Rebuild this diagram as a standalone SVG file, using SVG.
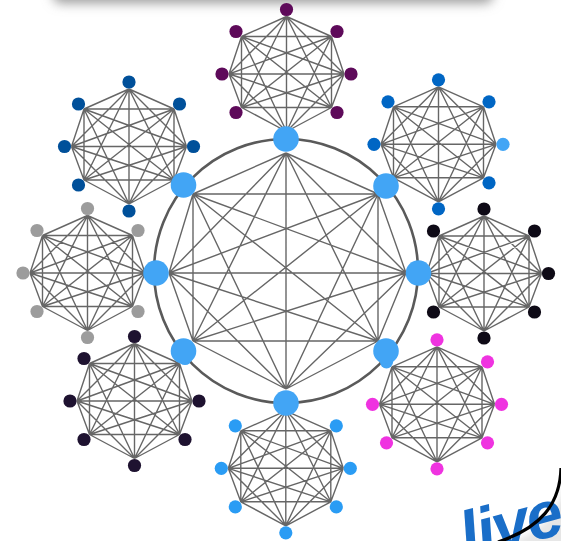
<svg xmlns="http://www.w3.org/2000/svg" xmlns:xlink="http://www.w3.org/1999/xlink" width="561" height="541" viewBox="0 0 561 541">
<style>
  .edge { fill: none; stroke: #666; stroke-width: 1.4; }
  .ring { fill: none; stroke: #5a5a5a; stroke-width: 2.6; }
  .hub { fill: #42a5f5; }
  .c-top { fill: #5e0a5a; }
  .c-ur { fill: #0066c4; }
  .c-r { fill: #0e0a16; }
  .c-lr { fill: #ef33e0; }
  .c-b { fill: #2a9cf4; }
  .c-ll { fill: #1e1230; }
  .c-l { fill: #9c9c9c; }
  .c-ul { fill: #00509a; }
  .lt { fill: #42a5f5; }
</style>
<defs>
  <filter id="blur6" x="-20%" y="-200%" width="140%" height="500%"><feGaussianBlur stdDeviation="6"/></filter>
  <filter id="blur3" x="-50%" y="-50%" width="200%" height="200%"><feGaussianBlur stdDeviation="3"/></filter>
  <path id="k8" class="edge" d="M0,-57.5L45,-37.5M0,-57.5L57.5,0M0,-57.5L45,33.5M0,-57.5L0,57.5M0,-57.5L-45,33.5M0,-57.5L-57.5,0M0,-57.5L-45,-37.5M45,-37.5L57.5,0M45,-37.5L45,33.5M45,-37.5L0,57.5M45,-37.5L-45,33.5M45,-37.5L-57.5,0M45,-37.5L-45,-37.5M57.5,0L45,33.5M57.5,0L0,57.5M57.5,0L-45,33.5M57.5,0L-57.5,0M57.5,0L-45,-37.5M45,33.5L0,57.5M45,33.5L-45,33.5M45,33.5L-57.5,0M45,33.5L-45,-37.5M0,57.5L-45,33.5M0,57.5L-57.5,0M0,57.5L-45,-37.5M-45,33.5L-57.5,0M-45,33.5L-45,-37.5M-57.5,0L-45,-37.5"/>
</defs>

<rect width="561" height="541" fill="#ffffff"/>

<!-- header shadow at top -->
<rect x="53" y="-40" width="440" height="43" rx="8" fill="#999" filter="url(#blur6)"/>

<g id="connectors">
  <circle class="ring" cx="286" cy="271" r="132"/>
  <path class="edge" d="M286,153L378,194M286,153L406,273M286,153L378,341M286,153L286,389M286,153L193,341M286,153L169,273M286,153L193,194M378,194L406,273M378,194L378,341M378,194L286,389M378,194L193,341M378,194L169,273M378,194L193,194M406,273L378,341M406,273L286,389M406,273L193,341M406,273L169,273M406,273L193,194M378,341L286,389M378,341L193,341M378,341L169,273M378,341L193,194M286,389L193,341M286,389L169,273M286,389L193,194M193,341L169,273M193,341L193,194M169,273L193,194"/>
  <use xlink:href="#k8" href="#k8" transform="translate(286.5,74)"/>
  <use xlink:href="#k8" href="#k8" transform="translate(438.5,144.3)"/>
  <use xlink:href="#k8" href="#k8" transform="translate(484,273.5)"/>
  <use xlink:href="#k8" href="#k8" transform="translate(437,404.3)"/>
  <use xlink:href="#k8" href="#k8" transform="translate(285.8,468.3)"/>
  <use xlink:href="#k8" href="#k8" transform="translate(134.5,401)"/>
  <use xlink:href="#k8" href="#k8" transform="translate(87.5,273)"/>
  <use xlink:href="#k8" href="#k8" transform="translate(129,146.5)"/>
</g>

<!-- outer clusters -->
<g id="cluster-top" transform="translate(286.5,74)">
  <circle id="top-t" class="c-top" cx="0" cy="-64.5" r="6.6"/>
  <circle id="top-ur" class="c-top" cx="50.5" cy="-42.5" r="6.6"/>
  <circle id="top-r" class="c-top" cx="64.5" cy="0" r="6.6"/>
  <circle id="top-lr" class="c-top" cx="50.5" cy="38.5" r="6.6"/>
  <circle id="top-ll" class="c-top" cx="-50.5" cy="38.5" r="6.6"/>
  <circle id="top-l" class="c-top" cx="-64.5" cy="0" r="6.6"/>
  <circle id="top-ul" class="c-top" cx="-50.5" cy="-42.5" r="6.6"/>
</g>
<g id="cluster-upper-right" transform="translate(438.5,144.3)">
  <circle id="ur-t" class="c-ur" cx="0" cy="-64.5" r="6.6"/>
  <circle id="ur-ur" class="c-ur" cx="50.5" cy="-42.5" r="6.6"/>
  <circle id="ur-r" class="lt" cx="64.5" cy="0" r="6.6"/>
  <circle id="ur-lr" class="c-ur" cx="50.5" cy="38.5" r="6.6"/>
  <circle id="ur-b" class="c-ur" cx="0" cy="64.5" r="6.6"/>
  <circle id="ur-l" class="c-ur" cx="-64.5" cy="0" r="6.6"/>
  <circle id="ur-ul" class="c-ur" cx="-50.5" cy="-42.5" r="6.6"/>
</g>
<g id="cluster-right" transform="translate(484,273.5)">
  <circle id="r-t" class="c-r" cx="0" cy="-64.5" r="6.6"/>
  <circle id="r-ur" class="c-r" cx="50.5" cy="-42.5" r="6.6"/>
  <circle id="r-r" class="c-r" cx="64.5" cy="0" r="6.6"/>
  <circle id="r-lr" class="c-r" cx="50.5" cy="38.5" r="6.6"/>
  <circle id="r-b" class="c-r" cx="0" cy="64.5" r="6.6"/>
  <circle id="r-ll" class="c-r" cx="-50.5" cy="38.5" r="6.6"/>
  <circle id="r-ul" class="c-r" cx="-50.5" cy="-42.5" r="6.6"/>
</g>
<g id="cluster-lower-right" transform="translate(437,404.3)">
  <circle id="lr-ul" class="lt" cx="-50.5" cy="-42.5" r="6.6"/>
  <circle id="lr-t" class="c-lr" cx="0" cy="-64.5" r="6.6"/>
  <circle id="lr-ur" class="c-lr" cx="50.5" cy="-42.5" r="6.6"/>
  <circle id="lr-r" class="c-lr" cx="64.5" cy="0" r="6.6"/>
  <circle id="lr-lr" class="c-lr" cx="50.5" cy="38.5" r="6.6"/>
  <circle id="lr-b" class="c-lr" cx="0" cy="64.5" r="6.6"/>
  <circle id="lr-ll" class="c-lr" cx="-50.5" cy="38.5" r="6.6"/>
  <circle id="lr-l" class="c-lr" cx="-64.5" cy="0" r="6.6"/>
</g>
<g id="cluster-bottom" transform="translate(285.8,468.3)">
  <circle id="b-ur" class="c-b" cx="50.5" cy="-42.5" r="6.6"/>
  <circle id="b-r" class="c-b" cx="64.5" cy="0" r="6.6"/>
  <circle id="b-lr" class="c-b" cx="50.5" cy="38.5" r="6.6"/>
  <circle id="b-b" class="c-b" cx="0" cy="64.5" r="6.6"/>
  <circle id="b-ll" class="c-b" cx="-50.5" cy="38.5" r="6.6"/>
  <circle id="b-l" class="c-b" cx="-64.5" cy="0" r="6.6"/>
  <circle id="b-ul" class="c-b" cx="-50.5" cy="-42.5" r="6.6"/>
</g>
<g id="cluster-lower-left" transform="translate(134.5,401)">
  <circle id="ll-ur" class="lt" cx="50.5" cy="-42.5" r="6.6"/>
  <circle id="ll-t" class="c-ll" cx="0" cy="-64.5" r="6.6"/>
  <circle id="ll-r" class="c-ll" cx="64.5" cy="0" r="6.6"/>
  <circle id="ll-lr" class="c-ll" cx="50.5" cy="38.5" r="6.6"/>
  <circle id="ll-b" class="c-ll" cx="0" cy="64.5" r="6.6"/>
  <circle id="ll-ll" class="c-ll" cx="-50.5" cy="38.5" r="6.6"/>
  <circle id="ll-l" class="c-ll" cx="-64.5" cy="0" r="6.6"/>
  <circle id="ll-ul" class="c-ll" cx="-50.5" cy="-42.5" r="6.6"/>
</g>
<g id="cluster-left" transform="translate(87.5,273)">
  <circle id="l-t" class="c-l" cx="0" cy="-64.5" r="6.6"/>
  <circle id="l-ur" class="c-l" cx="50.5" cy="-42.5" r="6.6"/>
  <circle id="l-lr" class="c-l" cx="50.5" cy="38.5" r="6.6"/>
  <circle id="l-b" class="c-l" cx="0" cy="64.5" r="6.6"/>
  <circle id="l-ll" class="c-l" cx="-50.5" cy="38.5" r="6.6"/>
  <circle id="l-l" class="c-l" cx="-64.5" cy="0" r="6.6"/>
  <circle id="l-ul" class="c-l" cx="-50.5" cy="-42.5" r="6.6"/>
</g>
<g id="cluster-upper-left" transform="translate(129,146.5)">
  <circle id="ul-t" class="c-ul" cx="0" cy="-64.5" r="6.6"/>
  <circle id="ul-ur" class="c-ul" cx="50.5" cy="-42.5" r="6.6"/>
  <circle id="ul-r" class="c-ul" cx="64.5" cy="0" r="6.6"/>
  <circle id="ul-b" class="c-ul" cx="0" cy="64.5" r="6.6"/>
  <circle id="ul-ll" class="c-ul" cx="-50.5" cy="38.5" r="6.6"/>
  <circle id="ul-l" class="c-ul" cx="-64.5" cy="0" r="6.6"/>
  <circle id="ul-ul" class="c-ul" cx="-50.5" cy="-42.5" r="6.6"/>
</g>

<!-- central hubs -->
<g id="hubs">
  <g id="hub-t"><circle class="hub" cx="286" cy="139" r="12.8"/></g>
  <g id="hub-ur"><circle class="hub" cx="386" cy="186" r="12.8"/></g>
  <g id="hub-r"><circle class="hub" cx="418.5" cy="273" r="12.8"/></g>
  <g id="hub-lr"><circle class="hub" cx="386" cy="351" r="12.8"/></g>
  <g id="hub-b"><circle class="hub" cx="286" cy="403" r="12.8"/></g>
  <g id="hub-ll"><circle class="hub" cx="183.5" cy="351" r="12.8"/></g>
  <g id="hub-l"><circle class="hub" cx="156" cy="273" r="12.8"/></g>
  <g id="hub-ul"><circle class="hub" cx="183.5" cy="185" r="12.8"/></g>
</g>

<!-- partial logo bottom right -->
<g id="logo">
  <path d="M565,472 C564,509 544,532 502,546 L570,546 Z" fill="#e6e6e6" filter="url(#blur3)"/>
  <text x="463" y="558" transform="rotate(-15 470 545)" font-family="'Liberation Sans', Arial, sans-serif" font-weight="bold" font-style="italic" font-size="66" letter-spacing="-2" fill="#1a6ec8">live</text>
  <path d="M561,468 C560,505 540,528 498,542" fill="none" stroke="#000" stroke-width="3.2"/>
</g>
</svg>
